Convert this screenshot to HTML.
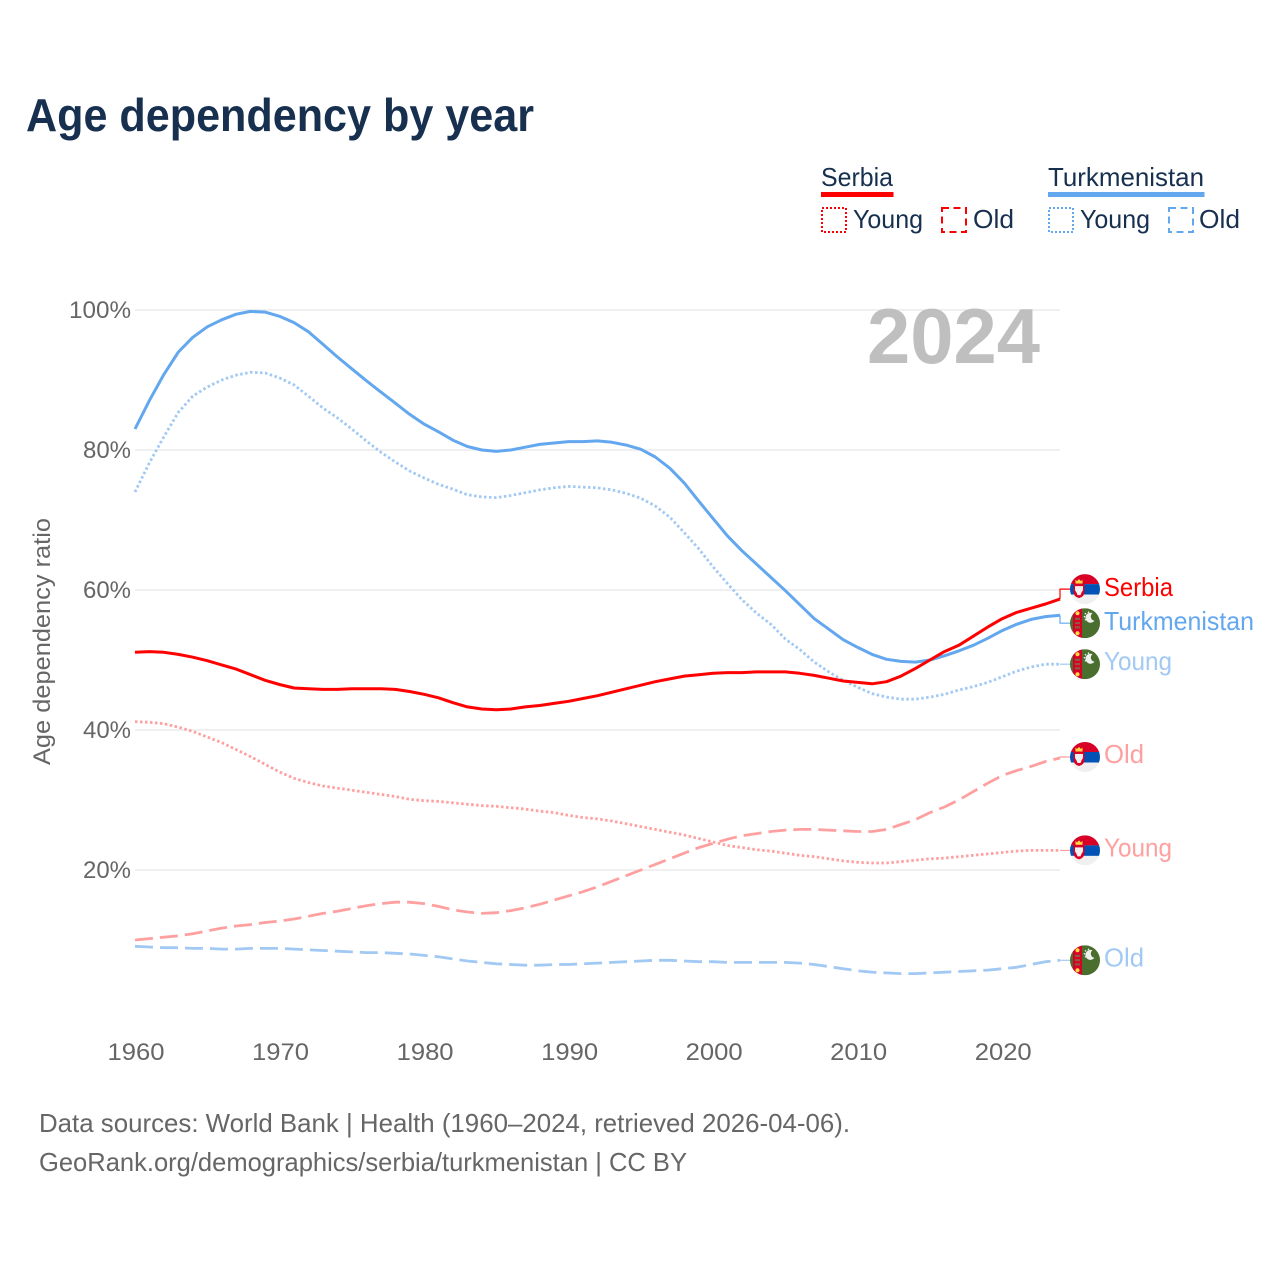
<!DOCTYPE html>
<html lang="en">
<head>
<meta charset="utf-8">
<title>Age dependency by year</title>
<style>
html,body{margin:0;padding:0;background:#fff;}
svg{display:block;font-family:"Liberation Sans",sans-serif;}
</style>
</head>
<body>
<svg id="chart" xmlns="http://www.w3.org/2000/svg" width="1280" height="1280" viewBox="0 0 1280 1280">
  <defs>
    <clipPath id="flag-clip"><circle cx="15" cy="15" r="15"/></clipPath>
    <symbol id="flag-serbia" width="30" height="30" viewBox="0 0 30 30">
      <g clip-path="url(#flag-clip)">
        <rect width="30" height="10" fill="#d80027"/>
        <rect y="10" width="30" height="10.500" fill="#0052b4"/>
        <rect y="20.500" width="30" height="9.500" fill="#f0f0f0"/>
        <path d="M5.500 5.500l1.500 1.500 2-2 2 2 1.500-1.500v4h-7z" fill="#ffda44"/>
        <path d="M3.500 9.500h11v8q0 5-5.500 6.500q-5.500-1.500-5.500-6.500z" fill="#d80027"/>
        <path d="M5 12h8v4l-1.500 2.500-1 2.500h-3l-1-2.500-1.500-2.500z" fill="#f0f0f0"/>
      </g>
    </symbol>
    <symbol id="flag-turkmenistan" width="30" height="30" viewBox="0 0 30 30">
      <g clip-path="url(#flag-clip)">
        <rect width="30" height="30" fill="#496e2d"/>
        <rect x="3" width="9" height="30" fill="#d80027"/>
        <circle cx="7.500" cy="5" r="2" fill="#ffda44"/>
        <rect x="5" y="9.500" width="5" height="2.200" fill="#8f5a3a"/>
        <rect x="5" y="13.800" width="5" height="2.200" fill="#8f5a3a"/>
        <rect x="5" y="18" width="5" height="2.200" fill="#8f5a3a"/>
        <circle cx="7.500" cy="25" r="2" fill="#ffda44"/>
        <path d="M22.500 5a5 5 0 1 0 2 7.500a4.200 4.200 0 0 1-2-7.500z" fill="#f0f0f0"/>
        <circle cx="15.500" cy="5.500" r=".8" fill="#f0f0f0"/>
        <circle cx="18.500" cy="4" r=".8" fill="#f0f0f0"/>
        <circle cx="14.500" cy="8.500" r=".8" fill="#f0f0f0"/>
        <circle cx="17" cy="8" r=".8" fill="#f0f0f0"/>
        <circle cx="15.500" cy="11.500" r=".8" fill="#f0f0f0"/>
      </g>
    </symbol>
  </defs>

  <text x="26" y="131" font-size="46" font-weight="700" fill="#17304f" textLength="508" lengthAdjust="spacingAndGlyphs">Age dependency by year</text>

  <g font-size="26" fill="#17304f">
    <text x="821" y="186" textLength="72" lengthAdjust="spacingAndGlyphs">Serbia</text>
    <rect x="821" y="192" width="72.500" height="5" fill="#ff0000"/>
    <rect x="822" y="208" width="24" height="24" fill="none" stroke="#ff0000" stroke-width="2" stroke-dasharray="2 2"/>
    <text x="853" y="228" textLength="70" lengthAdjust="spacingAndGlyphs">Young</text>
    <rect x="942" y="208" width="24" height="24" fill="none" stroke="#ff0000" stroke-width="2" stroke-dasharray="7 4.500"/>
    <text x="973" y="228" textLength="41" lengthAdjust="spacingAndGlyphs">Old</text>

    <text x="1048" y="186" textLength="156" lengthAdjust="spacingAndGlyphs">Turkmenistan</text>
    <rect x="1048" y="192" width="156.500" height="5" fill="#63a7ef"/>
    <rect x="1049" y="208" width="24" height="24" fill="none" stroke="#63a7ef" stroke-width="2" stroke-dasharray="2 2"/>
    <text x="1080" y="228" textLength="70" lengthAdjust="spacingAndGlyphs">Young</text>
    <rect x="1169" y="208" width="24" height="24" fill="none" stroke="#63a7ef" stroke-width="2" stroke-dasharray="7 4.500"/>
    <text x="1199" y="228" textLength="41" lengthAdjust="spacingAndGlyphs">Old</text>
  </g>

  <g id="grid"></g>
  <g id="ytick-labels"></g>
  <g id="xtick-labels"></g>

  <text transform="translate(50,641.500) rotate(-90)" text-anchor="middle" font-size="24" fill="#666666" textLength="247" lengthAdjust="spacingAndGlyphs">Age dependency ratio</text>

  <text x="867" y="363" font-size="78" font-weight="700" fill="#bfbfbf" textLength="173" lengthAdjust="spacingAndGlyphs">2024</text>

  <g id="series"></g>
  <g id="end-labels"></g>

  <text x="39" y="1132" font-size="26" fill="#666666" textLength="811" lengthAdjust="spacingAndGlyphs">Data sources: World Bank | Health (1960–2024, retrieved 2026-04-06).</text>
  <text x="39" y="1171" font-size="26" fill="#666666" textLength="648" lengthAdjust="spacingAndGlyphs">GeoRank.org/demographics/serbia/turkmenistan | CC BY</text>
</svg>

<script>
const firstYear = 1960;
const lastYear = 2024;
const xTicks = [1960, 1970, 1980, 1990, 2000, 2010, 2020];
const yTicks = [20, 40, 60, 80, 100];

const serbiaTotal = [
  51.1,51.2,51.1,50.8,50.4,49.9,49.3,48.7,47.9,47.1,
  46.5,46.0,45.9,45.8,45.8,45.9,45.9,45.9,45.8,45.5,
  45.1,44.6,43.9,43.3,43.0,42.9,43.0,43.3,43.5,43.8,
  44.1,44.5,44.9,45.4,45.9,46.4,46.9,47.3,47.7,47.9,
  48.1,48.2,48.2,48.3,48.3,48.3,48.1,47.8,47.4,47.0,
  46.8,46.6,46.9,47.7,48.8,50.0,51.2,52.1,53.4,54.7,
  55.9,56.8,57.4,58.0,58.7
];
const turkmenistanTotal = [
  83.0,87.1,90.8,94.0,96.1,97.6,98.6,99.4,99.8,99.7,
  99.1,98.2,96.9,95.1,93.3,91.6,89.9,88.3,86.7,85.1,
  83.7,82.6,81.4,80.5,80.0,79.8,80.0,80.4,80.8,81.0,
  81.2,81.2,81.3,81.1,80.7,80.1,79.0,77.4,75.3,72.7,
  70.2,67.7,65.6,63.7,61.8,59.9,57.9,55.9,54.4,52.9,
  51.8,50.8,50.1,49.8,49.7,50.0,50.6,51.3,52.1,53.1,
  54.2,55.1,55.8,56.2,56.4
];
const turkmenistanYoung = [
  74.0,78.2,81.9,85.4,87.7,89.0,90.0,90.7,91.1,91.0,
  90.3,89.3,87.7,86.0,84.6,83.0,81.3,79.7,78.3,77.0,
  76.0,75.1,74.4,73.6,73.3,73.2,73.5,73.9,74.3,74.6,
  74.8,74.7,74.6,74.3,73.8,73.1,72.0,70.4,68.2,65.9,
  63.3,60.9,58.6,56.7,55.1,53.0,51.5,49.7,48.3,47.1,
  46.1,45.2,44.7,44.4,44.4,44.7,45.1,45.7,46.2,46.8,
  47.6,48.4,49.0,49.4,49.4
];
const turkmenistanOld = [
  9.1,9.0,8.9,8.9,8.8,8.8,8.7,8.7,8.8,8.8,
  8.8,8.7,8.6,8.5,8.4,8.3,8.2,8.2,8.1,8.0,
  7.8,7.6,7.3,7.0,6.8,6.6,6.5,6.4,6.4,6.5,
  6.5,6.6,6.7,6.8,6.9,7.0,7.1,7.1,7.0,6.9,
  6.9,6.8,6.8,6.8,6.8,6.8,6.7,6.5,6.2,5.9,
  5.6,5.4,5.3,5.2,5.2,5.3,5.4,5.5,5.6,5.7,
  5.9,6.1,6.5,6.9,7.1
];
const serbiaYoung = [
  41.2,41.1,40.9,40.4,39.8,39.0,38.2,37.2,36.2,35.1,
  34.0,33.1,32.5,32.0,31.7,31.4,31.1,30.8,30.5,30.1,
  29.9,29.8,29.6,29.4,29.2,29.1,28.9,28.7,28.4,28.2,
  27.8,27.5,27.3,27.0,26.6,26.2,25.8,25.4,25.0,24.5,
  24.0,23.5,23.2,22.9,22.7,22.4,22.1,21.9,21.6,21.3,
  21.1,21.0,21.0,21.2,21.4,21.6,21.7,21.9,22.1,22.3,
  22.5,22.7,22.8,22.8,22.8
];
const serbiaOld = [
  10.0,10.2,10.4,10.6,10.9,11.3,11.7,12.0,12.2,12.5,
  12.7,13.0,13.4,13.8,14.1,14.5,14.9,15.2,15.4,15.4,
  15.2,14.8,14.3,14.0,13.8,13.9,14.2,14.6,15.1,15.7,
  16.3,16.9,17.6,18.4,19.2,20.0,20.8,21.6,22.4,23.2,
  23.8,24.4,24.9,25.2,25.5,25.7,25.8,25.8,25.7,25.6,
  25.5,25.5,25.8,26.5,27.2,28.2,29.0,30.0,31.2,32.4,
  33.5,34.2,34.8,35.5,36.0
];

const NS = 'http://www.w3.org/2000/svg';
const xScale = function (year) { return 135 + (year - firstYear) * (1060 - 135) / (lastYear - firstYear); };
const yScale = function (value) { return 1010 - value * 7; };

function make(tag, parent) {
  const el = document.createElementNS(NS, tag);
  parent.appendChild(el);
  return el;
}

const gridGroup = document.getElementById('grid');
const yLabelGroup = document.getElementById('ytick-labels');
const xLabelGroup = document.getElementById('xtick-labels');
const seriesGroup = document.getElementById('series');
const labelGroup = document.getElementById('end-labels');

yTicks.forEach(function (tick) {
  const line = make('line', gridGroup);
  
  
  line.setAttribute('x1', 135);
  line.setAttribute('x2', 1060);
  line.setAttribute('y1', yScale(tick));
  line.setAttribute('y2', yScale(tick));
  line.setAttribute('stroke', '#e8e8e8');
  line.setAttribute('stroke-width', '1.300');

  const label = make('text', yLabelGroup);
  
  
  label.setAttribute('x', 131);
  label.setAttribute('y', yScale(tick) + 8);
  label.setAttribute('text-anchor', 'end');
  label.setAttribute('font-size', '24');
  label.setAttribute('fill', '#666666');
  label.setAttribute('textLength', tick === 100 ? 62 : 48);
  label.setAttribute('lengthAdjust', 'spacingAndGlyphs');
  label.textContent = tick + '%';
});

xTicks.forEach(function (tick) {
  const label = make('text', xLabelGroup);
  
  
  label.setAttribute('x', xScale(tick) + 1);
  label.setAttribute('y', 1060);
  label.setAttribute('text-anchor', 'middle');
  label.setAttribute('font-size', '24');
  label.setAttribute('fill', '#666666');
  label.setAttribute('textLength', 57);
  label.setAttribute('lengthAdjust', 'spacingAndGlyphs');
  label.textContent = tick;
});

const seriesList = [
  { key: 'serbia-old', values: serbiaOld, color: '#ffa0a0', width: 2.8, dash: '18 7', label: 'Old', flag: 'flag-serbia', offset: -1, textDy: 6, len: 40 },
  { key: 'serbia-young', values: serbiaYoung, color: '#ffa0a0', width: 2.8, dash: '2.500 2.500', label: 'Young', flag: 'flag-serbia', offset: 0, textDy: 6, len: 68 },
  { key: 'turkmenistan-old', values: turkmenistanOld, color: '#a1c9f3', width: 2.8, dash: '18 7', label: 'Old', flag: 'flag-turkmenistan', offset: 0, textDy: 6, len: 40 },
  { key: 'turkmenistan-young', values: turkmenistanYoung, color: '#a1c9f3', width: 2.8, dash: '2.500 2.500', label: 'Young', flag: 'flag-turkmenistan', offset: 0, textDy: 6, len: 68 },
  { key: 'turkmenistan-total', values: turkmenistanTotal, color: '#63a7ef', width: 3, dash: null, label: 'Turkmenistan', flag: 'flag-turkmenistan', offset: 8, textDy: 7, len: 150 },
  { key: 'serbia-total', values: serbiaTotal, color: '#ff0000', width: 3, dash: null, label: 'Serbia', flag: 'flag-serbia', offset: -10, textDy: 7, len: 69 }
];

seriesList.forEach(function (s) {
  const d = s.values.map(function (v, i) {
    return (i ? 'L' : 'M') + xScale(firstYear + i).toFixed(1) + ' ' + yScale(v).toFixed(1);
  }).join(' ');
  const path = make('path', seriesGroup);
  
  
  path.setAttribute('d', d);
  path.setAttribute('fill', 'none');
  path.setAttribute('stroke', s.color);
  path.setAttribute('stroke-width', s.width);
  path.setAttribute('stroke-linejoin', 'round');
  if (s.dash) path.setAttribute('stroke-dasharray', s.dash);

  const endY = yScale(s.values[s.values.length - 1]);
  const labelY = endY + s.offset;

  const connector = make('path', labelGroup);
  
  
  connector.setAttribute('d', 'M1060 ' + endY.toFixed(1) + ' V' + labelY.toFixed(1) + ' H1072');
  connector.setAttribute('fill', 'none');
  connector.setAttribute('stroke', s.color);
  connector.setAttribute('stroke-width', '1.200');

  const flag = make('use', labelGroup);
  
  
  flag.setAttribute('href', '#' + s.flag);
  flag.setAttribute('x', 1070);
  flag.setAttribute('y', labelY - 15);
  flag.setAttribute('width', 30);
  flag.setAttribute('height', 30);

  const text = make('text', labelGroup);
  
  
  text.setAttribute('x', 1104);
  text.setAttribute('y', labelY + s.textDy);
  text.setAttribute('font-size', '26');
  text.setAttribute('fill', s.color);
  text.setAttribute('textLength', s.len);
  text.setAttribute('lengthAdjust', 'spacingAndGlyphs');
  text.textContent = s.label;
});
</script>
</body>
</html>
